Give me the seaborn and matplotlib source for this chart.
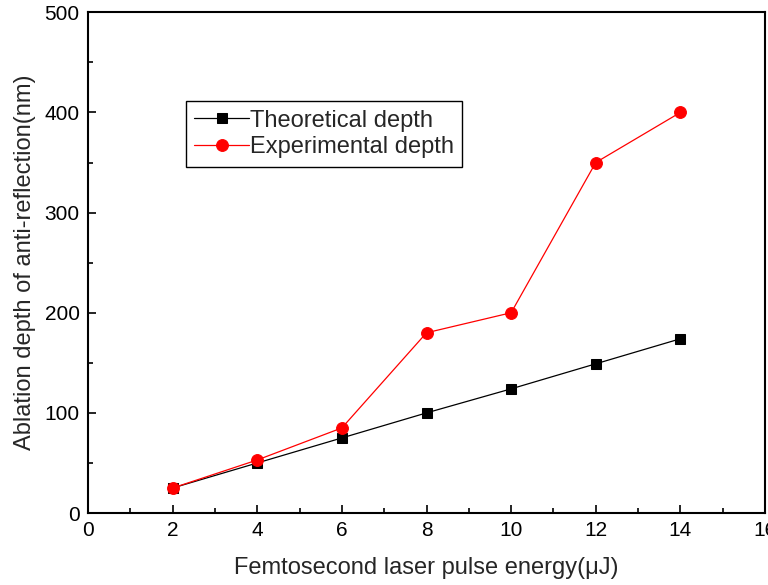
import matplotlib
matplotlib.use("Agg")
import matplotlib.pyplot as plt
import seaborn as sns
import pandas as pd
from matplotlib.ticker import MultipleLocator

energy = [2, 4, 6, 8, 10, 12, 14]
theoretical = [25, 50, 75, 100, 124, 149, 174]
experimental = [25, 53, 85, 180, 200, 350, 400]

sns.set_style("ticks")
plt.rcParams['font.family'] = ['Liberation Sans', 'DejaVu Sans']

fig = plt.figure(figsize=(7.68, 5.85), dpi=100)
ax = fig.add_axes([0.1146, 0.123, 0.8815, 0.856])

df = pd.DataFrame({"energy": energy, "Theoretical depth": theoretical,
                   "Experimental depth": experimental})

sns.lineplot(data=df, x="energy", y="Theoretical depth", ax=ax, color="black",
             marker="s", markersize=7.5, markeredgecolor="black", linewidth=0.9,
             label="Theoretical depth")
sns.lineplot(data=df, x="energy", y="Experimental depth", ax=ax, color="red",
             marker="o", markersize=8.5, markeredgecolor="red", linewidth=0.9,
             label="Experimental depth")

ax.set_xlim(0, 16)
ax.set_ylim(0, 500)
ax.xaxis.set_major_locator(MultipleLocator(2))
ax.xaxis.set_minor_locator(MultipleLocator(1))
ax.yaxis.set_major_locator(MultipleLocator(100))
ax.yaxis.set_minor_locator(MultipleLocator(50))
ax.tick_params(which="both", direction="in", top=False, right=False, width=1.2, colors="black")
ax.tick_params(which="major", length=6, labelsize=15, pad=6)
ax.tick_params(which="minor", length=3.5)
for s in ax.spines.values():
    s.set_linewidth(1.5)
    s.set_color("black")

ax.set_xlabel("Femtosecond laser pulse energy(\u03bcJ)", fontsize=17, labelpad=12)
ax.set_ylabel("Ablation depth of anti-reflection(nm)", fontsize=17, labelpad=6)

leg = ax.legend(loc="upper left", bbox_to_anchor=(0.145, 0.822), fontsize=17,
                frameon=True, fancybox=False, edgecolor="black", framealpha=1,
                handlelength=2.3, handletextpad=0.05, borderpad=0.35, labelspacing=0.2,
                borderaxespad=0)
leg.get_frame().set_linewidth(1.0)

fig.savefig("out.png", dpi=100)
